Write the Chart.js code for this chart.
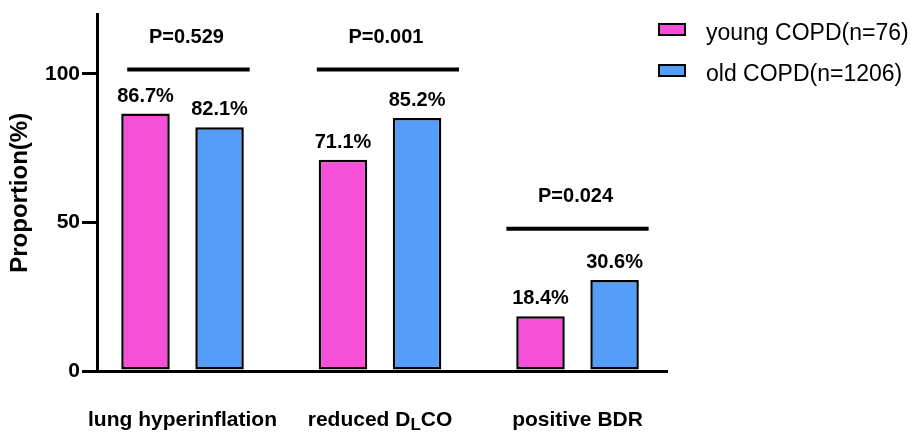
<!DOCTYPE html>
<html>
<head>
<meta charset="utf-8">
<script src="https://cdn.jsdelivr.net/npm/chart.js@4.4.1/dist/chart.umd.min.js"></script>
<style>
  html, body { margin: 0; padding: 0; background: #fff; }
  #wrap { width: 919px; height: 434px; position: relative; }
</style>
</head>
<body>
<div id="wrap"><canvas id="chart"></canvas></div>
<script>
// ---- Data ----
const categories = ['lung hyperinflation', 'reduced D_{L}CO', 'positive BDR'];
const seriesNames = ['young COPD(n=76)', 'old COPD(n=1206)'];
const youngValues = [86.7, 71.1, 18.4];
const oldValues = [82.1, 85.2, 30.6];
const yTicks = [0, 50, 100];
const pLabels = ['P=0.529', 'P=0.001', 'P=0.024'];
const pLevels = [101.5, 101.5, 47.9];
const pSpanFrom = [-0.28, -0.32, -0.36];
const pSpanTo = [0.34, 0.40, 0.36];

const FONT = "'Liberation Sans', Arial, Helvetica, sans-serif";
const PINK = '#f64fd8';
const BLUE = '#549efa';

const toPoints = vals => vals.map((v, i) => ({ x: i, y: v }));

// draw a label that may contain _{sub} parts, centred on cx
function drawRichLabel(ctx, text, cx, baseY) {
    const parts = text.split(/_\{(.*?)\}/);
    const segs = parts.map((t, i) => ({ t, sub: i % 2 === 1 }));
    const fontFor = s => s.sub ? `bold 17px ${FONT}` : `bold 21px ${FONT}`;
    let total = 0;
    segs.forEach(s => { ctx.font = fontFor(s); s.w = ctx.measureText(s.t).width; total += s.w; });
    let x = cx - total / 2;
    ctx.textAlign = 'left';
    segs.forEach(s => {
        ctx.font = fontFor(s);
        ctx.fillText(s.t, x, baseY + (s.sub ? 4 : 0));
        x += s.w;
    });
}

const overlay = {
    id: 'overlay',
    afterDraw(chart) {
        const { ctx, scales: { x, y } } = chart;
        ctx.save();
        ctx.fillStyle = '#000';
        ctx.strokeStyle = '#000';
        ctx.textBaseline = 'alphabetic';

        // value labels
        ctx.font = `bold 20px ${FONT}`;
        ctx.textAlign = 'center';
        chart.data.datasets.forEach((ds, di) => {
            chart.getDatasetMeta(di).data.forEach((bar, i) => {
                ctx.fillText(ds.data[i].y.toFixed(1) + '%', bar.x, bar.y - 12);
            });
        });

        // significance lines
        ctx.lineWidth = 4;
        pLabels.forEach((lab, i) => {
            const x0 = x.getPixelForValue(i + pSpanFrom[i]);
            const x1 = x.getPixelForValue(i + pSpanTo[i]);
            const yy = y.getPixelForValue(pLevels[i]);
            ctx.beginPath();
            ctx.moveTo(x0, yy);
            ctx.lineTo(x1, yy);
            ctx.stroke();
            ctx.font = `bold 20px ${FONT}`;
            ctx.textAlign = 'center';
            ctx.fillText(lab, (x0 + x1) / 2 - 2, yy - 27);
        });

        // category labels
        categories.forEach((c, i) => {
            drawRichLabel(ctx, c, x.getPixelForValue(i), 426);
        });

        // legend
        ctx.lineWidth = 2;
        ctx.textAlign = 'left';
        ctx.font = `23px ${FONT}`;
        chart.data.datasets.forEach((ds, di) => {
            const top = 24 + di * 41;
            ctx.fillStyle = ds.backgroundColor;
            ctx.fillRect(659, top, 26, 11);
            ctx.strokeRect(659, top, 26, 11);
            ctx.fillStyle = '#000';
            ctx.fillText(ds.label, 706, top + 15.5);
        });
        ctx.restore();
    }
};

new Chart(document.getElementById('chart'), {
    type: 'bar',
    data: {
        datasets: [
            {
                label: seriesNames[0],
                data: toPoints(youngValues),
                backgroundColor: PINK,
                borderColor: '#000',
                borderWidth: 2.5,
                borderSkipped: false,
                categoryPercentage: 0.75,
                barPercentage: 0.655
            },
            {
                label: seriesNames[1],
                data: toPoints(oldValues),
                backgroundColor: BLUE,
                borderColor: '#000',
                borderWidth: 2.5,
                borderSkipped: false,
                categoryPercentage: 0.75,
                barPercentage: 0.655
            }
        ]
    },
    options: {
        responsive: true,
        maintainAspectRatio: false,
        animation: false,
        layout: { padding: { left: 0, right: 252, top: 13, bottom: 0 } },
        plugins: {
            legend: { display: false },
            tooltip: { enabled: false }
        },
        scales: {
            x: {
                type: 'linear',
                min: -0.433,
                max: 2.453,
                offset: false,
                z: 1,
                grid: { display: false, offset: false },
                border: { display: true, color: '#000', width: 3 },
                ticks: { display: false },
                afterBuildTicks: axis => { axis.ticks = categories.map((c, i) => ({ value: i })); },
                afterFit: axis => { axis.height = 63; }
            },
            y: {
                min: 0,
                max: 120,
                z: 1,
                grid: {
                    drawOnChartArea: false,
                    drawTicks: true,
                    tickLength: 15,
                    color: '#000',
                    lineWidth: 3
                },
                border: { display: true, color: '#000', width: 3 },
                ticks: {
                    color: '#000',
                    padding: 2,
                    font: { family: FONT, size: 21, weight: 'bold' }
                },
                afterBuildTicks: axis => { axis.ticks = yTicks.map(v => ({ value: v })); },
                title: {
                    display: true,
                    text: 'Proportion(%)',
                    color: '#000',
                    padding: { top: 6, bottom: 0 },
                    font: { family: FONT, size: 24, weight: 'bold' }
                },
                afterFit: axis => { axis.width = 97; }
            }
        }
    },
    plugins: [overlay]
});
</script>
</body>
</html>
